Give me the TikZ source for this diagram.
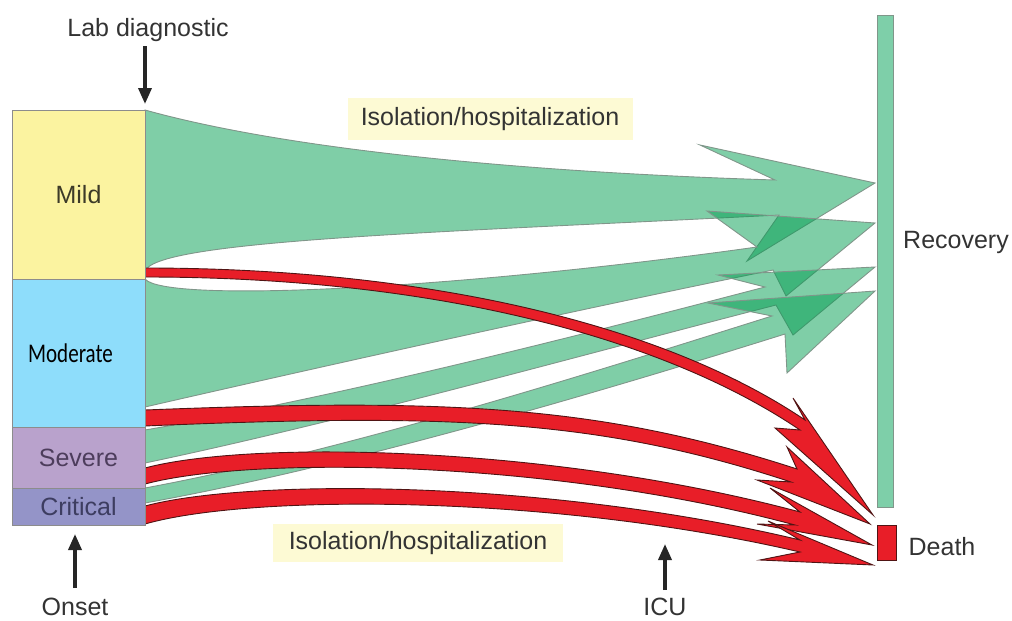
\documentclass[tikz,border=0pt]{standalone}
\usepackage{fontspec}
\usepackage{graphicx}
\setmainfont{Liberation Sans}
\newfontfamily\calib{Carlito}
\usetikzlibrary{arrows.meta}
\definecolor{gfill}{RGB}{0,157,80}
\definecolor{gline}{RGB}{128,150,138}
\definecolor{gbar}{RGB}{126,207,169}
\definecolor{rfill}{RGB}{232,30,40}
\definecolor{rline}{RGB}{80,20,20}
\definecolor{mildc}{RGB}{251,243,160}
\definecolor{modc}{RGB}{142,221,251}
\definecolor{sevc}{RGB}{185,162,204}
\definecolor{critc}{RGB}{148,148,200}
\definecolor{boxline}{RGB}{140,140,140}
\definecolor{lblbg}{RGB}{253,250,212}
\definecolor{txt}{RGB}{51,51,51}
\tikzset{
 gflow/.style={fill=gfill, fill opacity=0.5, draw=gline, line width=0.9pt, line join=miter},
 rflow/.style={fill=rfill, draw=rline, line width=0.9pt, line join=miter},
 stage/.style={rectangle, draw=boxline, line width=1pt, minimum width=133pt, inner sep=0pt, outer sep=0pt, font=\fontsize{25}{28}\selectfont},
 lbl/.style={font=\fontsize{25}{28}\selectfont, text=txt, inner sep=0pt},
 hl/.style={fill=lblbg, inner sep=0pt, font=\fontsize{25}{28}\selectfont, text=txt},
 marker/.style={-{Triangle[length=16pt,width=13pt]}, line width=3.5pt, draw=black!85}
}
\begin{document}
\begin{tikzpicture}[x=1pt,y=-1pt]
\useasboundingbox (0,0) rectangle (1012,621);
% highlighted labels
\node[hl, minimum width=285pt, minimum height=42pt] (iso1) at (490,119) {Isolation/hospitalization};
\node[hl, minimum width=290pt, minimum height=38pt] (iso2) at (418,543) {Isolation/hospitalization};
% green flows to recovery
\path[gflow] (145,110) .. controls (300,153) and (550,173) .. (775,180) -- (700,145) -- (875,183) -- (747,261) -- (779,215) .. controls (450,232) and (150,240) .. (145,272) -- cycle;
\path[gflow] (145,279) .. controls (165,303) and (450,290) .. (757,247) -- (707,211) -- (875,223) -- (786,296) -- (773,270) .. controls (600,305) and (350,360) .. (145,407) -- cycle;
\path[gflow] (145,430) .. controls (350,395) and (600,330) .. (765,287) -- (718,275) -- (875,267) -- (793,335) -- (776,305) .. controls (600,350) and (350,420) .. (145,463) -- cycle;
\path[gflow] (145,488) .. controls (350,450) and (600,370) .. (772,316) -- (708,303) -- (875,291) -- (787,373) -- (785,334) .. controls (600,392) and (350,466) .. (145,503) -- cycle;
% red flows to death
\path[rflow] (145,268) .. controls (420,268) and (660,322) .. (805,420) -- (793,398) -- (873,515) -- (775,428) -- (800,430) .. controls (655,332) and (420,277) .. (145,277) -- cycle;
\path[rflow] (145,410) .. controls (450,398) and (600,405) .. (797,469) -- (787,447) -- (870,524) -- (757,480) -- (791,482) .. controls (600,419) and (450,413) .. (145,426) -- cycle;
\path[rflow] (145,468) .. controls (250,440) and (550,445) .. (800,512) -- (770,488) -- (872,545) -- (757,524) -- (795,525) .. controls (550,459) and (250,456) .. (145,484) -- cycle;
\path[rflow] (145,506) .. controls (250,478) and (550,480) .. (800,540) -- (768,521) -- (873,565) -- (760,560) -- (800,552) .. controls (550,494) and (250,494) .. (145,524) -- cycle;
% stage boxes
\node[stage, fill=mildc, minimum height=169pt, text={rgb,255:red,60;green,58;blue,40}] (mild) at (78.5,194.5) {Mild};
\node[stage, fill=modc, minimum height=148pt, font=\calib\fontsize{27}{30}\selectfont, text=black] (moderate) at (78.5,353) {\hspace*{-16pt}\scalebox{0.78}[1]{Moderate}};
\node[stage, fill=sevc, minimum height=61pt, text={rgb,255:red,77;green,61;blue,92}] (severe) at (78.5,457.5) {Severe};
\node[stage, fill=critc, minimum height=37pt, text={rgb,255:red,61;green,61;blue,96}] (critical) at (78.5,506.5) {Critical};
% outcomes
\node[rectangle, fill=gbar, draw=gline, line width=0.8pt, minimum width=16pt, minimum height=492pt, inner sep=0pt] (recovery) at (885,261) {};
\node[rectangle, fill=rfill, draw=rline, line width=0.9pt, minimum width=19pt, minimum height=35pt, inner sep=0pt] (death) at (886.5,542.5) {};
\node[lbl] (rectxt) at (956,242) {Recovery};
\node[lbl] (deathtxt) at (942,547) {Death};
% time markers
\node[lbl] (labtxt) at (148,30) {Lab diagnostic};
\node[lbl] (onsettxt) at (75,607) {Onset};
\node[lbl] (icutxt) at (665,607) {ICU};
\coordinate (labs) at (145,46);
\coordinate (labe) at (145,104);
\coordinate (ons) at (75,588);
\coordinate (one) at (75,534);
\coordinate (icus) at (665,590);
\coordinate (icue) at (665,544);
\draw[marker] (labs) -- (labe);
\draw[marker] (ons) -- (one);
\draw[marker] (icus) -- (icue);
\end{tikzpicture}
\end{document}
